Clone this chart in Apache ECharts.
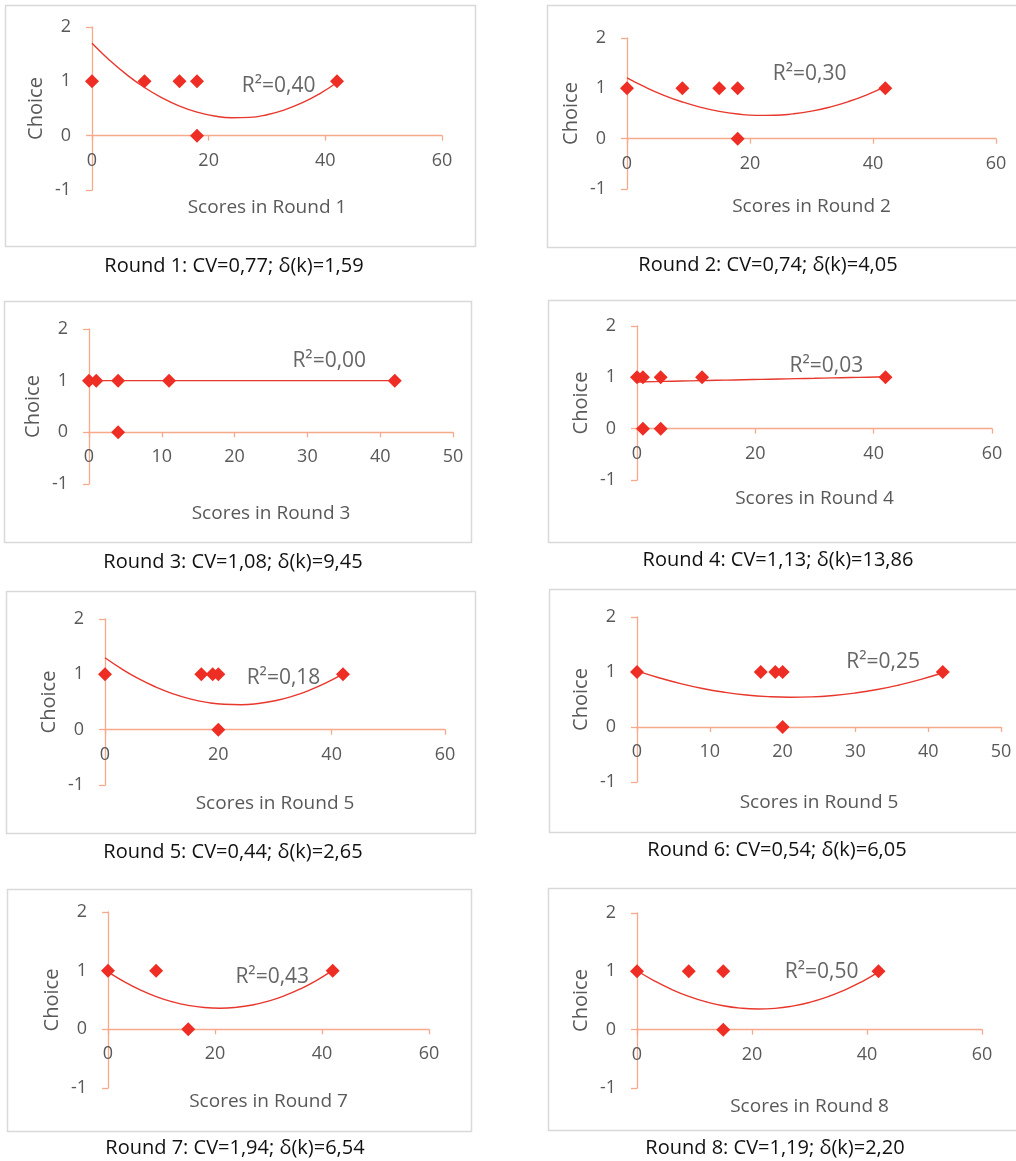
<!DOCTYPE html>
<html>
<head>
<meta charset="utf-8">
<script src="https://cdn.jsdelivr.net/npm/echarts@6/dist/echarts.min.js"></script>
<style>
html,body{margin:0;padding:0;background:#fff;}
#c{width:1016px;height:1161px;}
</style>
</head>
<body>
<div id="c"></div>
<script>
// ---------- DATA ----------
const xTitles = ['Scores in Round 1','Scores in Round 2','Scores in Round 3','Scores in Round 4',
                 'Scores in Round 5','Scores in Round 5','Scores in Round 7','Scores in Round 8'];
const captions = ['Round 1: CV=0,77; δ(k)=1,59','Round 2: CV=0,74; δ(k)=4,05',
                  'Round 3: CV=1,08; δ(k)=9,45','Round 4: CV=1,13; δ(k)=13,86',
                  'Round 5: CV=0,44; δ(k)=2,65','Round 6: CV=0,54; δ(k)=6,05',
                  'Round 7: CV=1,94; δ(k)=6,54','Round 8: CV=1,19; δ(k)=2,20'];
const r2Labels = ['R²=0,40','R²=0,30','R²=0,00','R²=0,03','R²=0,18','R²=0,25','R²=0,43','R²=0,50'];
const xMax = [60,60,50,60,60,50,60,60];
const xStep = [20,20,10,20,20,10,20,20];
const yTicks = [-1,0,1,2];

const scoresR1 = [0,9,15,18,18,42];      const choiceR1 = [1,1,1,1,0,1];
const scoresR2 = [0,9,15,18,18,42];      const choiceR2 = [1,1,1,1,0,1];
const scoresR3 = [0,1,4,11,42,4];        const choiceR3 = [1,1,1,1,1,0];
const scoresR4 = [0,1,4,11,42,1,4];      const choiceR4 = [1,1,1,1,1,0,0];
const scoresR5 = [0,17,19,20,42,20];     const choiceR5 = [1,1,1,1,1,0];
const scoresR6 = [0,17,19,20,42,20];     const choiceR6 = [1,1,1,1,1,0];
const scoresR7 = [0,9,42,15];            const choiceR7 = [1,1,1,0];
const scoresR8 = [0,9,15,42,15];         const choiceR8 = [1,1,1,1,0];

// trend lines
const trendX  = [0,3,6,9,12,15,18,21,24,27,30,33,36,39,42];
const trendR1 = [1.700,1.389,1.118,0.886,0.695,0.543,0.432,0.361,0.329,0.337,0.386,0.475,0.603,0.771,0.979];
const trendR2 = [1.210,1.023,0.862,0.729,0.622,0.542,0.489,0.463,0.464,0.492,0.546,0.628,0.737,0.872,1.034];
const trendR3 = [1,1,1,1,1,1,1,1,1,1,1,1,1,1,1];
const trendR4 = [0.910,0.917,0.924,0.931,0.939,0.946,0.953,0.960,0.967,0.974,0.981,0.989,0.996,1.003,1.010];
const trendR5 = [1.300,1.095,0.917,0.769,0.648,0.556,0.493,0.458,0.451,0.473,0.523,0.602,0.709,0.844,1.008];
const trendR6 = [1.021,0.896,0.789,0.701,0.633,0.583,0.552,0.540,0.547,0.573,0.618,0.681,0.764,0.865,0.986];
const trendR7 = [0.980,0.814,0.674,0.559,0.471,0.408,0.371,0.360,0.375,0.415,0.481,0.573,0.691,0.835,1.004];
const trendR8 = [1.010,0.838,0.691,0.571,0.478,0.410,0.369,0.354,0.365,0.403,0.467,0.557,0.674,0.817,0.986];

// R² label anchor (data coords)
const r2X = [32.0,29.7,33.0,32.0,31.5,33.8,30.7,32.1];
const r2Y = [0.91,1.29,1.39,1.22,0.93,1.19,0.90,0.98];

const scores = [scoresR1,scoresR2,scoresR3,scoresR4,scoresR5,scoresR6,scoresR7,scoresR8];
const choices = [choiceR1,choiceR2,choiceR3,choiceR4,choiceR5,choiceR6,choiceR7,choiceR8];
const trends = [trendR1,trendR2,trendR3,trendR4,trendR5,trendR6,trendR7,trendR8];

// ---------- LAYOUT ----------
const grids = [
  {left:92, top:27, width:350, height:163},
  {left:627,top:38, width:369, height:151},
  {left:89, top:329,width:364, height:155},
  {left:637,top:326,width:355, height:154},
  {left:105,top:619,width:340, height:166},
  {left:637,top:617,width:364, height:165},
  {left:108,top:912,width:321, height:176},
  {left:637,top:913,width:345, height:175}
];
const xNameGap = [63,59,73,61,65,67,64,68];
const frames = [
  [5,5,470,241],[547,5,475,242],[4,301,467,241],[548,300,475,242],
  [6,591,469,242],[549,589,475,243],[7,889,464,242],[548,888,475,242]
];
const capPos = [[234,266],[768,265],[233,562],[778,560],[233,852],[777,850],[235,1148],[775,1148]];

const FONT = '"Open Sans", Lato, sans-serif';
const AX = '#F7A98C';
const RED = '#EE2E24';
const GRAY = '#595959';

const option = {
  animation:false,
  backgroundColor:'#fff',
  grid: grids.map(g => Object.assign({containLabel:false}, g)),
  xAxis: grids.map((g,i) => ({
    type:'value', gridIndex:i, min:0, max:xMax[i], interval:xStep[i],
    offset: -g.height/3,
    name:xTitles[i], nameLocation:'middle', nameGap:xNameGap[i]-1,
    nameTextStyle:{color:GRAY, fontSize:19, fontFamily:FONT},
    axisLine:{show:true, onZero:false, lineStyle:{color:AX, width:1.3}},
    axisTick:{show:true, length:5, lineStyle:{color:AX, width:1.3}},
    axisLabel:{color:GRAY, fontSize:18, fontFamily:FONT, margin:16},
    splitLine:{show:false}
  })),
  yAxis: grids.map((g,i) => ({
    type:'value', gridIndex:i, min:yTicks[0], max:yTicks[yTicks.length-1], interval:1,
    name:'Choice', nameLocation:'middle', nameGap:46,
    nameTextStyle:{color:GRAY, fontSize:20, fontFamily:FONT},
    axisLine:{show:true, onZero:false, lineStyle:{color:AX, width:1.3}},
    axisTick:{show:true, length:6, lineStyle:{color:AX, width:1.3}},
    axisLabel:{color:GRAY, fontSize:18, fontFamily:FONT, margin:21},
    splitLine:{show:false}
  })),
  series: [],
  graphic: []
};

for (let i=0;i<8;i++){
  option.series.push({
    type:'line', xAxisIndex:i, yAxisIndex:i, smooth:true, symbol:'none', z:2,
    lineStyle:{color:'#E8372C', width:1.4},
    data: trendX.map((x,k)=>[x, trends[i][k]])
  });
  option.series.push({
    type:'scatter', xAxisIndex:i, yAxisIndex:i, symbol:'diamond', symbolSize:14, z:3,
    itemStyle:{color:RED, opacity:1},
    data: scores[i].map((x,k)=>[x, choices[i][k]])
  });
  option.series.push({
    type:'scatter', xAxisIndex:i, yAxisIndex:i, symbolSize:1, z:4, silent:true,
    itemStyle:{color:'rgba(0,0,0,0)'},
    label:{show:true, position:'inside', formatter:r2Labels[i], color:'#404040', fontSize:21, fontFamily:FONT},
    data:[[r2X[i], r2Y[i]]]
  });
  const f = frames[i];
  option.graphic.push({
    type:'rect', silent:true, z:-10,
    shape:{x:f[0]+0.5, y:f[1]+0.5, width:f[2], height:f[3]},
    style:{fill:'none', stroke:'#D9D9D9', lineWidth:1.5}
  });
  option.graphic.push({
    type:'text', silent:true,
    x:capPos[i][0], y:capPos[i][1],
    style:{text:captions[i], fill:'#111', font:'20px '+FONT, textAlign:'center', textVerticalAlign:'middle'}
  });
}

const chart = echarts.init(document.getElementById('c'), null, {renderer:'canvas'});
chart.setOption(option);
</script>
</body>
</html>
